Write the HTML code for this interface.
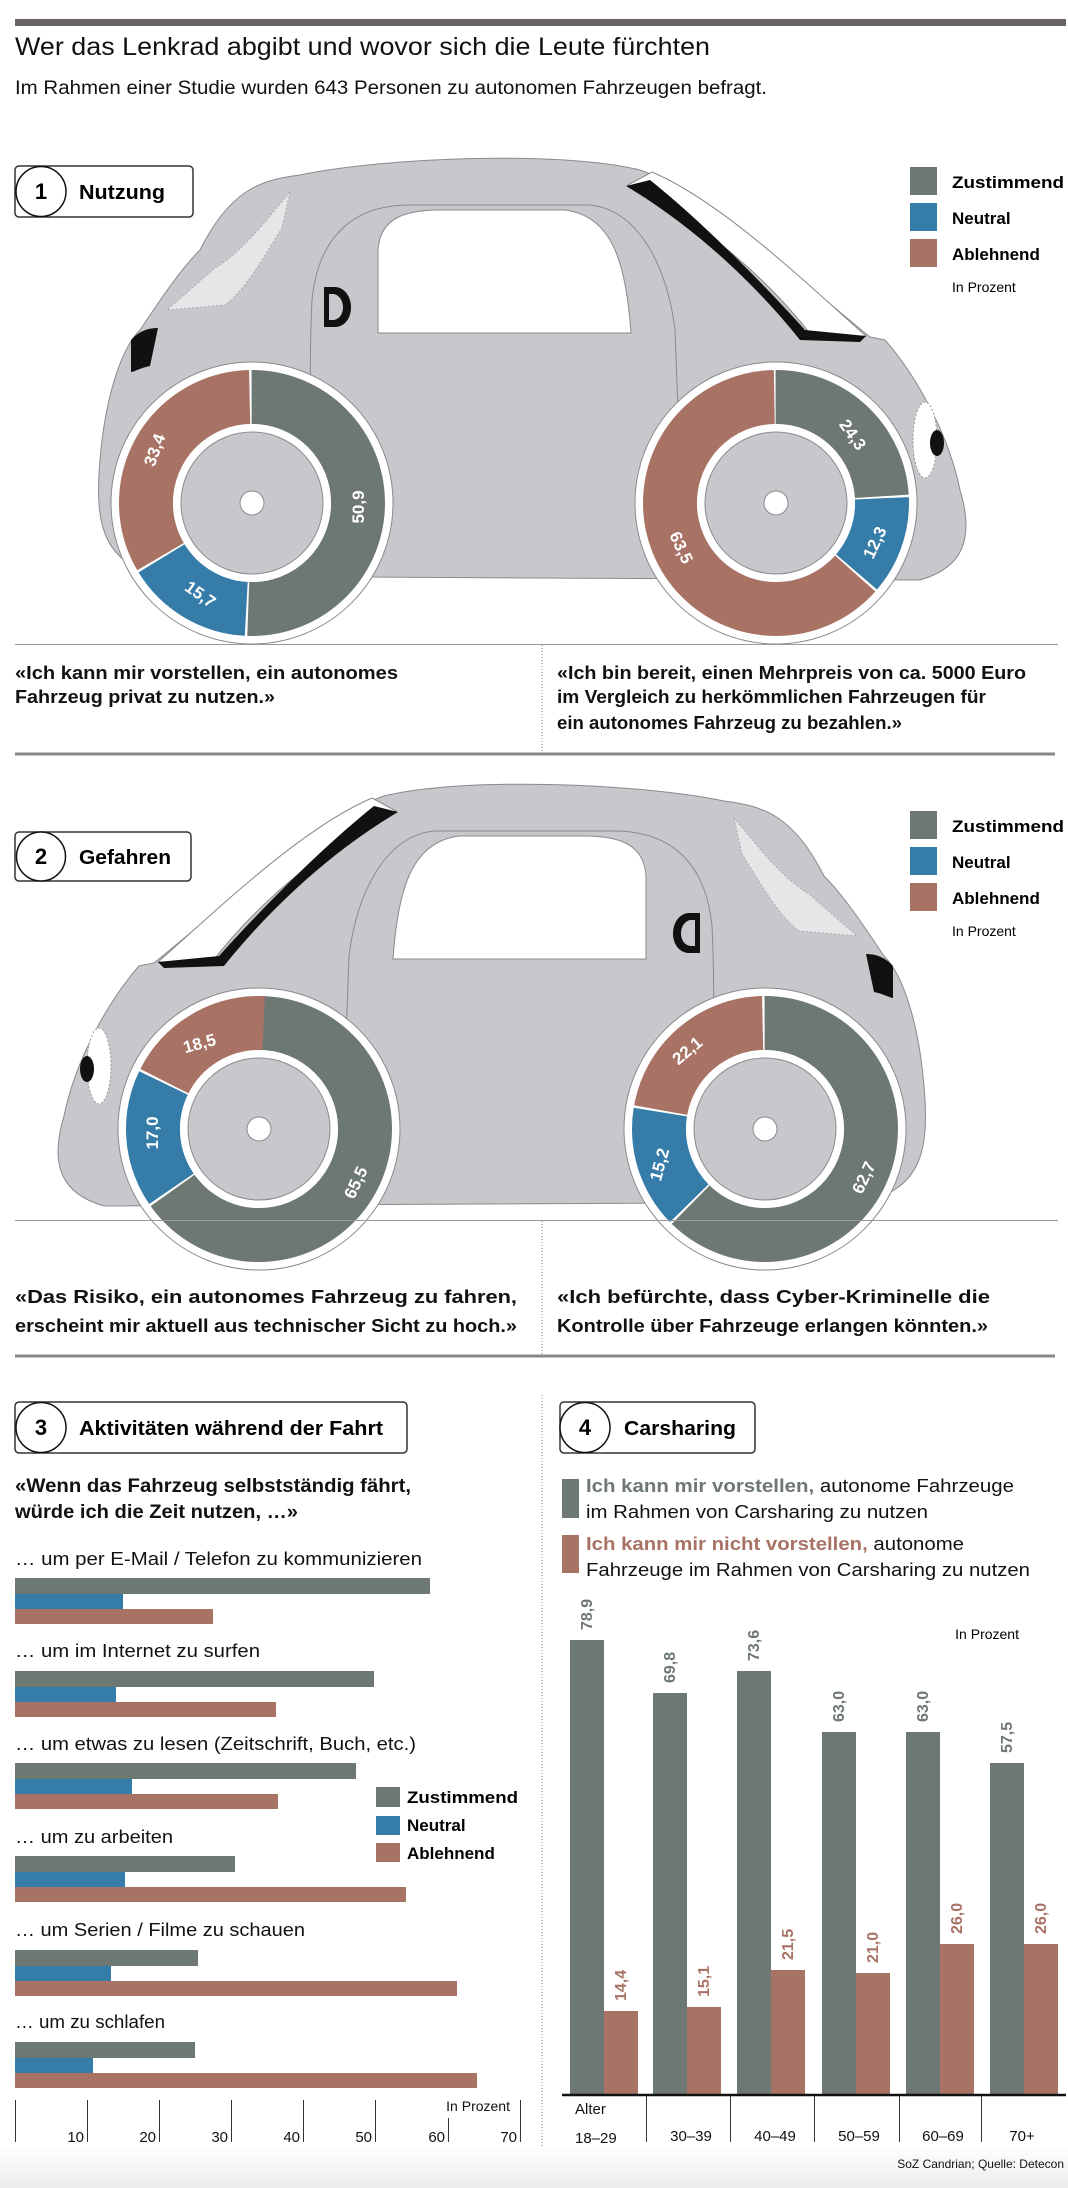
<!DOCTYPE html>
<html><head><meta charset="utf-8"><style>
html,body{margin:0;padding:0;background:#fff;}
svg{display:block;font-family:"Liberation Sans",sans-serif;}
.b{font-weight:bold;}
</style></head><body>
<svg width="1068" height="2188" viewBox="0 0 1068 2188" xmlns="http://www.w3.org/2000/svg">
<defs>
<linearGradient id="ft" x1="0" y1="0" x2="0" y2="1"><stop offset="0" stop-color="#fff"/><stop offset="1" stop-color="#ececec"/></linearGradient>
<g id="car">
  <path d="M200,250 C230,190 260,180 300,175 C380,158 560,150 640,170 C700,190 800,280 870,337 L885,340 C920,380 950,440 960,490 C975,540 962,568 920,580 L160,576 C100,562 95,520 100,460 C105,400 120,350 140,330 C160,300 180,270 200,250 Z" fill="#c8c8cc" stroke="#8a8a8e" stroke-width="1"/>
  <path d="M290,192 C270,215 245,250 215,268 L167,310 L225,305 C245,290 262,260 282,228 Z" fill="#e6e6e8" stroke="#aaa" stroke-width="1" stroke-dasharray="2,2"/>
  <path d="M315,575 C312,480 308,380 312,300 C318,240 350,205 410,205 L590,205 C640,210 668,270 675,330 L682,520" fill="none" stroke="#8a8a8e" stroke-width="1"/>
  <path d="M378,333 L378,250 C380,218 405,210 440,210 L565,210 C612,216 626,262 631,333 Z" fill="#fff" stroke="#8a8a8e" stroke-width="1"/>
  <path d="M324,287 L336,287 C356,290 356,325 336,327 L324,327 Z" fill="#111"/>
  <path d="M329,294 L334,294 C346,297 346,318 334,320 L329,320 Z" fill="#c8c8cc"/>
  <path d="M628,185 L652,172 C722,202 805,282 866,336 L812,336 C762,272 700,222 628,185 Z" fill="#fff" stroke="#888" stroke-width="1"/>
  <path d="M626,186 L650,180 C700,220 760,280 805,330 L866,336 L860,342 L800,340 C760,290 700,230 626,186 Z" fill="#111"/>
  <path d="M131,340 C140,330 150,328 158,328 L150,366 C140,368 134,372 131,372 Z" fill="#111"/>
  <ellipse cx="925" cy="440" rx="12" ry="38" fill="#fff" stroke="#999" stroke-dasharray="2,2"/>
  <ellipse cx="937" cy="443" rx="7" ry="13" fill="#111"/>
</g>
</defs>

<rect x="15" y="19" width="1051" height="7" fill="#6a6466"/>
<text x="15" y="55" font-size="25" textLength="695" lengthAdjust="spacingAndGlyphs" fill="#111">Wer das Lenkrad abgibt und wovor sich die Leute fürchten</text>
<text x="15" y="94" font-size="19" textLength="752" lengthAdjust="spacingAndGlyphs" fill="#111">Im Rahmen einer Studie wurden 643 Personen zu autonomen Fahrzeugen befragt.</text>

<!-- SECTION 1 -->
<use href="#car"/>
<rect x="15" y="166" width="178" height="51" rx="4" fill="#fff" stroke="#333" stroke-width="1.5"/>
<circle cx="41" cy="191.5" r="25" fill="#fff" stroke="#111" stroke-width="1.5"/>
<text x="41" y="199" font-size="22" text-anchor="middle" class="b">1</text>
<text x="79" y="199" font-size="20" class="b" textLength="86" lengthAdjust="spacingAndGlyphs">Nutzung</text>
<g class="b" font-size="17">
<rect x="910" y="167" width="27" height="28" fill="#6e7873"/><text x="952" y="188" textLength="112" lengthAdjust="spacingAndGlyphs">Zustimmend</text>
<rect x="910" y="203" width="27" height="28" fill="#357ca8"/><text x="952" y="224">Neutral</text>
<rect x="910" y="239" width="27" height="28" fill="#a87365"/><text x="952" y="260">Ablehnend</text>
</g>
<text x="952" y="292" font-size="14">In Prozent</text>

<g>
<circle cx="252" cy="503" r="141" fill="#fff" stroke="#8a8a8e"/>
<g transform="rotate(-90 252 503)" fill="none" stroke-width="54">
<circle cx="252" cy="503" r="106" pathLength="100" stroke="#6e7873" stroke-dasharray="50.6 49.4"/>
<circle cx="252" cy="503" r="106" pathLength="100" stroke="#357ca8" stroke-dasharray="15.4 84.6" stroke-dashoffset="-50.9"/>
<circle cx="252" cy="503" r="106" pathLength="100" stroke="#a87365" stroke-dasharray="33.1 66.9" stroke-dashoffset="-66.6"/>
</g>
<circle cx="252" cy="503" r="79" fill="#fff"/>
<circle cx="252" cy="503" r="71" fill="#c8c8cc" stroke="#8a8a8e"/>
<circle cx="252" cy="503" r="12" fill="#fff" stroke="#8a8a8e"/>
</g>
<g fill="#fff" font-size="17" class="b" text-anchor="middle">
<text transform="translate(364,507) rotate(-90)">50,9</text>
<text transform="translate(197,599) rotate(35)">15,7</text>
<text transform="translate(160,452) rotate(-70)">33,4</text>
</g>
<g>
<circle cx="776" cy="503" r="141" fill="#fff" stroke="#8a8a8e"/>
<g transform="rotate(-90 776 503)" fill="none" stroke-width="54">
<circle cx="776" cy="503" r="106" pathLength="100" stroke="#6e7873" stroke-dasharray="24 76"/>
<circle cx="776" cy="503" r="106" pathLength="100" stroke="#357ca8" stroke-dasharray="12 88" stroke-dashoffset="-24.3"/>
<circle cx="776" cy="503" r="106" pathLength="100" stroke="#a87365" stroke-dasharray="63.2 36.8" stroke-dashoffset="-36.6"/>
</g>
<circle cx="776" cy="503" r="79" fill="#fff"/>
<circle cx="776" cy="503" r="71" fill="#c8c8cc" stroke="#8a8a8e"/>
<circle cx="776" cy="503" r="12" fill="#fff" stroke="#8a8a8e"/>
</g>
<g fill="#fff" font-size="17" class="b" text-anchor="middle">
<text transform="translate(848,438) rotate(55)">24,3</text>
<text transform="translate(880,545) rotate(-65)">12,3</text>
<text transform="translate(676,550) rotate(65)">63,5</text>
</g>

<line x1="15" y1="644.5" x2="1058" y2="644.5" stroke="#999" stroke-width="1"/>
<line x1="542" y1="645" x2="542" y2="752" stroke="#888" stroke-dasharray="1,2"/>
<g class="b" font-size="18" fill="#111">
<text x="15" y="679" textLength="383" lengthAdjust="spacingAndGlyphs">«Ich kann mir vorstellen, ein autonomes</text>
<text x="15" y="703" textLength="260" lengthAdjust="spacingAndGlyphs">Fahrzeug privat zu nutzen.»</text>
<text x="557" y="679" textLength="469" lengthAdjust="spacingAndGlyphs">«Ich bin bereit, einen Mehrpreis von ca. 5000 Euro</text>
<text x="557" y="703" textLength="429" lengthAdjust="spacingAndGlyphs">im Vergleich zu herkömmlichen Fahrzeugen für</text>
<text x="557" y="729" textLength="345" lengthAdjust="spacingAndGlyphs">ein autonomes Fahrzeug zu bezahlen.»</text>
</g>
<line x1="15" y1="754" x2="1055" y2="754" stroke="#888" stroke-width="3"/>

<!-- SECTION 2 -->
<use href="#car" transform="translate(1024,626) scale(-1,1)"/>
<rect x="15" y="832" width="176" height="49" rx="4" fill="#fff" stroke="#333" stroke-width="1.5"/>
<circle cx="41" cy="856.5" r="24.5" fill="#fff" stroke="#111" stroke-width="1.5"/>
<text x="41" y="864" font-size="22" text-anchor="middle" class="b">2</text>
<text x="79" y="864" font-size="20" class="b" textLength="92" lengthAdjust="spacingAndGlyphs">Gefahren</text>
<g class="b" font-size="17">
<rect x="910" y="811" width="27" height="28" fill="#6e7873"/><text x="952" y="832" textLength="112" lengthAdjust="spacingAndGlyphs">Zustimmend</text>
<rect x="910" y="847" width="27" height="28" fill="#357ca8"/><text x="952" y="868">Neutral</text>
<rect x="910" y="883" width="27" height="28" fill="#a87365"/><text x="952" y="904">Ablehnend</text>
</g>
<text x="952" y="936" font-size="14">In Prozent</text>

<g>
<circle cx="259" cy="1129" r="141" fill="#fff" stroke="#8a8a8e"/>
<g transform="rotate(-90 259 1129)" fill="none" stroke-width="54">
<circle cx="259" cy="1129" r="106" pathLength="100" stroke="#6e7873" stroke-dasharray="65.2 34.8"/>
<circle cx="259" cy="1129" r="106" pathLength="100" stroke="#357ca8" stroke-dasharray="16.7 83.3" stroke-dashoffset="-65.5"/>
<circle cx="259" cy="1129" r="106" pathLength="100" stroke="#a87365" stroke-dasharray="18.2 81.8" stroke-dashoffset="-82.5"/>
</g>
<circle cx="259" cy="1129" r="79" fill="#fff"/>
<circle cx="259" cy="1129" r="71" fill="#c8c8cc" stroke="#8a8a8e"/>
<circle cx="259" cy="1129" r="12" fill="#fff" stroke="#8a8a8e"/>
</g>
<g fill="#fff" font-size="17" class="b" text-anchor="middle">
<text transform="translate(361,1185) rotate(-65)">65,5</text>
<text transform="translate(158,1133) rotate(-90)">17,0</text>
<text transform="translate(201,1049) rotate(-15)">18,5</text>
</g>
<g>
<circle cx="765" cy="1129" r="141" fill="#fff" stroke="#8a8a8e"/>
<g transform="rotate(-90 765 1129)" fill="none" stroke-width="54">
<circle cx="765" cy="1129" r="106" pathLength="100" stroke="#6e7873" stroke-dasharray="62.4 37.6"/>
<circle cx="765" cy="1129" r="106" pathLength="100" stroke="#357ca8" stroke-dasharray="14.9 85.1" stroke-dashoffset="-62.7"/>
<circle cx="765" cy="1129" r="106" pathLength="100" stroke="#a87365" stroke-dasharray="21.8 78.2" stroke-dashoffset="-77.9"/>
</g>
<circle cx="765" cy="1129" r="79" fill="#fff"/>
<circle cx="765" cy="1129" r="71" fill="#c8c8cc" stroke="#8a8a8e"/>
<circle cx="765" cy="1129" r="12" fill="#fff" stroke="#8a8a8e"/>
</g>
<g fill="#fff" font-size="17" class="b" text-anchor="middle">
<text transform="translate(869,1180) rotate(-65)">62,7</text>
<text transform="translate(665,1166) rotate(-75)">15,2</text>
<text transform="translate(691,1055) rotate(-40)">22,1</text>
</g>

<line x1="15" y1="1220.5" x2="1058" y2="1220.5" stroke="#999" stroke-width="1"/>
<line x1="542" y1="1221" x2="542" y2="1354" stroke="#888" stroke-dasharray="1,2"/>
<g class="b" font-size="18" fill="#111">
<text x="15" y="1303" textLength="502" lengthAdjust="spacingAndGlyphs">«Das Risiko, ein autonomes Fahrzeug zu fahren,</text>
<text x="15" y="1332" textLength="502" lengthAdjust="spacingAndGlyphs">erscheint mir aktuell aus technischer Sicht zu hoch.»</text>
<text x="557" y="1303" textLength="433" lengthAdjust="spacingAndGlyphs">«Ich befürchte, dass Cyber-Kriminelle die</text>
<text x="557" y="1332" textLength="431" lengthAdjust="spacingAndGlyphs">Kontrolle über Fahrzeuge erlangen könnten.»</text>
</g>
<line x1="15" y1="1356" x2="1055" y2="1356" stroke="#888" stroke-width="3"/>

<!-- SECTION 3 -->
<line x1="542" y1="1395" x2="542" y2="2166" stroke="#888" stroke-dasharray="1,2"/>
<rect x="15" y="1402" width="392" height="51" rx="4" fill="#fff" stroke="#333" stroke-width="1.5"/>
<circle cx="41" cy="1427.5" r="25" fill="#fff" stroke="#111" stroke-width="1.5"/>
<text x="41" y="1435" font-size="22" text-anchor="middle" class="b">3</text>
<text x="79" y="1435" font-size="20" class="b" textLength="304" lengthAdjust="spacingAndGlyphs">Aktivitäten während der Fahrt</text>
<g class="b" font-size="19" fill="#111">
<text x="15" y="1492" textLength="396" lengthAdjust="spacingAndGlyphs">«Wenn das Fahrzeug selbstständig fährt,</text>
<text x="15" y="1518" textLength="283" lengthAdjust="spacingAndGlyphs">würde ich die Zeit nutzen, …»</text>
</g>
<g font-size="18" fill="#111">
<text x="15" y="1565" textLength="407" lengthAdjust="spacingAndGlyphs">… um per E-Mail / Telefon zu kommunizieren</text>
<text x="15" y="1657" textLength="245" lengthAdjust="spacingAndGlyphs">… um im Internet zu surfen</text>
<text x="15" y="1750" textLength="401" lengthAdjust="spacingAndGlyphs">… um etwas zu lesen (Zeitschrift, Buch, etc.)</text>
<text x="15" y="1843" textLength="158" lengthAdjust="spacingAndGlyphs">… um zu arbeiten</text>
<text x="15" y="1936" textLength="290" lengthAdjust="spacingAndGlyphs">… um Serien / Filme zu schauen</text>
<text x="15" y="2028" textLength="150" lengthAdjust="spacingAndGlyphs">… um zu schlafen</text>
</g>
<g>
<rect x="15" y="1578" width="415" height="16" fill="#6e7873"/><rect x="15" y="1594" width="108" height="15" fill="#357ca8"/><rect x="15" y="1609" width="198" height="15" fill="#a87365"/>
<rect x="15" y="1671" width="359" height="16" fill="#6e7873"/><rect x="15" y="1687" width="101" height="15" fill="#357ca8"/><rect x="15" y="1702" width="261" height="15" fill="#a87365"/>
<rect x="15" y="1763" width="341" height="16" fill="#6e7873"/><rect x="15" y="1779" width="117" height="15" fill="#357ca8"/><rect x="15" y="1794" width="263" height="15" fill="#a87365"/>
<rect x="15" y="1856" width="220" height="16" fill="#6e7873"/><rect x="15" y="1872" width="110" height="15" fill="#357ca8"/><rect x="15" y="1887" width="391" height="15" fill="#a87365"/>
<rect x="15" y="1950" width="183" height="16" fill="#6e7873"/><rect x="15" y="1966" width="96" height="15" fill="#357ca8"/><rect x="15" y="1981" width="442" height="15" fill="#a87365"/>
<rect x="15" y="2042" width="180" height="16" fill="#6e7873"/><rect x="15" y="2058" width="78" height="15" fill="#357ca8"/><rect x="15" y="2073" width="462" height="15" fill="#a87365"/>
</g>
<g class="b" font-size="17">
<rect x="376" y="1787" width="24" height="20" fill="#6e7873"/><text x="407" y="1803" textLength="111" lengthAdjust="spacingAndGlyphs">Zustimmend</text>
<rect x="376" y="1816" width="24" height="19" fill="#357ca8"/><text x="407" y="1831">Neutral</text>
<rect x="376" y="1843" width="24" height="19" fill="#a87365"/><text x="407" y="1859">Ablehnend</text>
</g>
<g stroke="#333" stroke-width="1">
<line x1="15.5" y1="2100" x2="15.5" y2="2142"/><line x1="87.5" y1="2100" x2="87.5" y2="2142"/><line x1="159.5" y1="2100" x2="159.5" y2="2142"/><line x1="231.5" y1="2100" x2="231.5" y2="2142"/><line x1="303.5" y1="2100" x2="303.5" y2="2142"/><line x1="375.5" y1="2100" x2="375.5" y2="2142"/><line x1="448.5" y1="2118" x2="448.5" y2="2142"/><line x1="520.5" y1="2100" x2="520.5" y2="2142"/>
</g>
<g font-size="15" text-anchor="end" fill="#111">
<text x="84" y="2142">10</text><text x="156" y="2142">20</text><text x="228" y="2142">30</text><text x="300" y="2142">40</text><text x="372" y="2142">50</text><text x="445" y="2142">60</text><text x="517" y="2142">70</text>
<text x="510" y="2111" font-size="14">In Prozent</text>
</g>

<!-- SECTION 4 -->
<rect x="560" y="1402" width="195" height="51" rx="4" fill="#fff" stroke="#333" stroke-width="1.5"/>
<circle cx="585" cy="1427.5" r="25" fill="#fff" stroke="#111" stroke-width="1.5"/>
<text x="585" y="1435" font-size="22" text-anchor="middle" class="b">4</text>
<text x="624" y="1435" font-size="20" class="b" textLength="112" lengthAdjust="spacingAndGlyphs">Carsharing</text>
<rect x="562" y="1479" width="17" height="39" fill="#6e7873"/>
<rect x="562" y="1535" width="17" height="38" fill="#a87365"/>
<g font-size="18" fill="#111">
<text x="586" y="1492" textLength="428" lengthAdjust="spacingAndGlyphs"><tspan class="b" fill="#6e7873">Ich kann mir vorstellen,</tspan> autonome Fahrzeuge</text>
<text x="586" y="1518" textLength="342" lengthAdjust="spacingAndGlyphs">im Rahmen von Carsharing zu nutzen</text>
<text x="586" y="1550" textLength="378" lengthAdjust="spacingAndGlyphs"><tspan class="b" fill="#a87365">Ich kann mir nicht vorstellen,</tspan> autonome</text>
<text x="586" y="1576" textLength="444" lengthAdjust="spacingAndGlyphs">Fahrzeuge im Rahmen von Carsharing zu nutzen</text>
</g>
<text x="1019" y="1639" font-size="14" text-anchor="end">In Prozent</text>
<g>
<rect x="570" y="1640" width="34" height="454" fill="#6e7873"/><rect x="604" y="2011" width="34" height="83" fill="#a87365"/>
<rect x="653" y="1693" width="34" height="401" fill="#6e7873"/><rect x="687" y="2007" width="34" height="87" fill="#a87365"/>
<rect x="737" y="1671" width="34" height="423" fill="#6e7873"/><rect x="771" y="1970" width="34" height="124" fill="#a87365"/>
<rect x="822" y="1732" width="34" height="362" fill="#6e7873"/><rect x="856" y="1973" width="34" height="121" fill="#a87365"/>
<rect x="906" y="1732" width="34" height="362" fill="#6e7873"/><rect x="940" y="1944" width="34" height="150" fill="#a87365"/>
<rect x="990" y="1763" width="34" height="331" fill="#6e7873"/><rect x="1024" y="1944" width="34" height="150" fill="#a87365"/>
</g>
<g class="b" font-size="16">
<g fill="#6e7873">
<text transform="translate(592,1630) rotate(-90)">78,9</text>
<text transform="translate(675,1683) rotate(-90)">69,8</text>
<text transform="translate(759,1661) rotate(-90)">73,6</text>
<text transform="translate(844,1722) rotate(-90)">63,0</text>
<text transform="translate(928,1722) rotate(-90)">63,0</text>
<text transform="translate(1012,1753) rotate(-90)">57,5</text>
</g>
<g fill="#a87365">
<text transform="translate(626,2001) rotate(-90)">14,4</text>
<text transform="translate(709,1997) rotate(-90)">15,1</text>
<text transform="translate(793,1960) rotate(-90)">21,5</text>
<text transform="translate(878,1963) rotate(-90)">21,0</text>
<text transform="translate(962,1934) rotate(-90)">26,0</text>
<text transform="translate(1046,1934) rotate(-90)">26,0</text>
</g>
</g>
<line x1="562" y1="2095" x2="1066" y2="2095" stroke="#111" stroke-width="2.5"/>
<g stroke="#333" stroke-width="1">
<line x1="646.5" y1="2096" x2="646.5" y2="2142"/><line x1="730.5" y1="2096" x2="730.5" y2="2142"/><line x1="814.5" y1="2096" x2="814.5" y2="2142"/><line x1="899.5" y1="2096" x2="899.5" y2="2142"/><line x1="981.5" y1="2096" x2="981.5" y2="2142"/>
</g>
<g font-size="15" fill="#111">
<text x="575" y="2114">Alter</text>
<text x="575" y="2143">18–29</text>
<g text-anchor="middle">
<text x="691" y="2141">30–39</text><text x="775" y="2141">40–49</text><text x="859" y="2141">50–59</text><text x="943" y="2141">60–69</text><text x="1022" y="2141">70+</text>
</g>
</g>

<rect x="0" y="2146" width="1068" height="42" fill="url(#ft)"/>
<text x="1064" y="2168" font-size="12" text-anchor="end" fill="#111">SoZ Candrian; Quelle: Detecon</text>
</svg>
</body></html>
